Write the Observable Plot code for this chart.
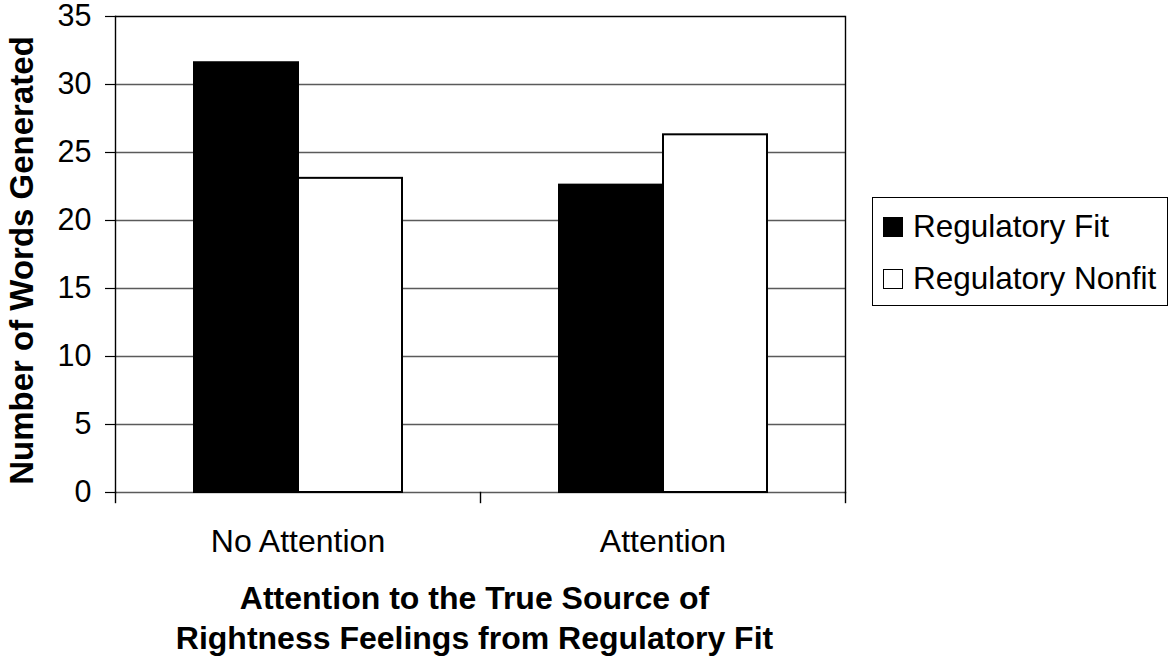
<!DOCTYPE html>
<html>
<head>
<meta charset="utf-8">
<script src="https://cdn.jsdelivr.net/npm/d3@7"></script>
<script src="https://cdn.jsdelivr.net/npm/@observablehq/plot@0.6"></script>
<style>
  html, body { margin: 0; padding: 0; background: #fff; }
  #wrap { position: relative; width: 1170px; height: 662px; font-family: "Liberation Sans", Arial, sans-serif; }
  #legend { position: absolute; left: 872px; top: 197px; width: 294px; height: 107px; border: 1.5px solid #000; background: #fff; }
  .item { position: absolute; left: 10px; height: 31px; display: flex; align-items: center; font-size: 31.5px; line-height: 31px; color: #000; white-space: nowrap; }
  .sw { width: 18px; height: 18px; border: 1.5px solid #000; margin-right: 10px; box-sizing: content-box; }
</style>
</head>
<body>
<div id="wrap"></div>
<script>
const categories = ["No Attention", "Attention"];
const series = ["Regulatory Fit", "Regulatory Nonfit"];
const fitValues = [31.6, 22.6];
const nonfitValues = [23.1, 26.3];
const yTicks = [0, 5, 10, 15, 20, 25, 30, 35];
const seriesColors = ["#000000", "#ffffff"];
const yTitle = "Number of Words Generated";
const xTitle = "Attention to the True Source of\nRightness Feelings from Regulatory Fit";

const data = categories.flatMap((c, i) => [
  {category: c, series: series[0], value: fitValues[i]},
  {category: c, series: series[1], value: nonfitValues[i]}
]);

const chart = Plot.plot({
  width: 1170,
  height: 662,
  marginLeft: 115,
  marginRight: 325,
  marginTop: 16,
  marginBottom: 170,
  style: {fontFamily: "'Liberation Sans', Arial, sans-serif", fontSize: "30px", color: "#000", background: "#fff"},
  fx: {domain: categories, padding: 0, label: null},
  x: {domain: series, paddingInner: 0, paddingOuter: 0.746, axis: null},
  y: {domain: [0, 35], label: null},
  color: {domain: series, range: seriesColors},
  marks: [
    Plot.ruleY(yTicks.filter(t => t < 35), {stroke: "#5a5a5a", strokeWidth: 1.4}),
    Plot.ruleY([35], {stroke: "#000", strokeWidth: 1.4}),
    Plot.frame({anchor: "left", facetAnchor: "left", stroke: "#000", strokeWidth: 1.4}),
    Plot.frame({anchor: "right", facetAnchor: "right", stroke: "#000", strokeWidth: 1.4}),
    Plot.frame({anchor: "left", facetAnchor: "left", stroke: "#000", strokeWidth: 1.4, insetTop: 476, insetBottom: -10}),
    Plot.frame({anchor: "right", stroke: "#000", strokeWidth: 1.4, insetTop: 476, insetBottom: -10}),
    Plot.barY(data, {fx: "category", x: "series", y: "value", fill: "series", stroke: "#000", strokeWidth: 2}),
    Plot.axisY({ticks: yTicks, tickSize: 10, tickPadding: 14, fontSize: 30.5, label: null, stroke: "#000", strokeWidth: 1.2}),
    Plot.axisFx({anchor: "bottom", tickSize: 0, tickPadding: 37, fontSize: 32, label: null}),
    Plot.text([yTitle], {frameAnchor: "left", facetAnchor: "left", textAnchor: "middle", lineAnchor: "middle", rotate: -90, dx: -93, dy: 6, fontSize: 33, fontWeight: "bold", fill: "#000"}),
    Plot.text([xTitle], {frameAnchor: "bottom-right", facetAnchor: "left", textAnchor: "middle", lineAnchor: "top", dx: -6, dy: 88, fontSize: 32, fontWeight: "bold", lineHeight: 1.25, fill: "#000"})
  ]
});

const wrap = document.getElementById("wrap");
wrap.appendChild(chart);

const legend = document.createElement("div");
legend.id = "legend";
series.forEach((s, i) => {
  const item = document.createElement("div");
  item.className = "item";
  item.style.top = (i === 0 ? 13 : 65) + "px";
  const sw = document.createElement("span");
  sw.className = "sw";
  sw.style.background = seriesColors[i];
  const label = document.createElement("span");
  label.textContent = s;
  item.appendChild(sw);
  item.appendChild(label);
  legend.appendChild(item);
});
wrap.appendChild(legend);
</script>
</body>
</html>
